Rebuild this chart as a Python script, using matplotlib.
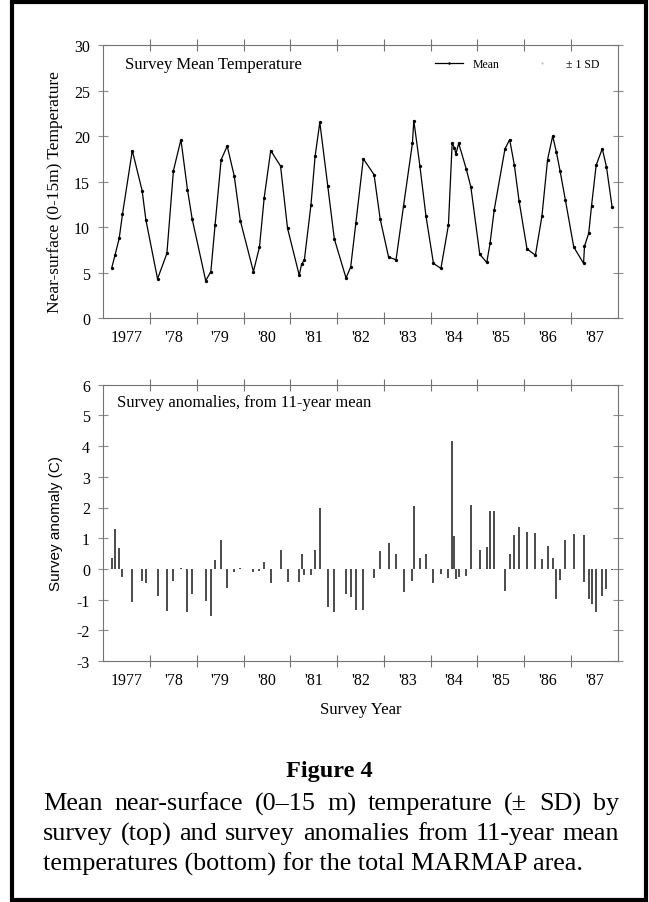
import matplotlib
matplotlib.use("Agg")
import matplotlib.pyplot as plt
from matplotlib.lines import Line2D
from matplotlib.patches import Rectangle

# survey dates (decimal year), survey mean temperature and anomaly from 11-yr mean
years = [1977.18, 1977.25, 1977.34, 1977.41, 1977.62, 1977.83, 1977.91,
         1978.16, 1978.36, 1978.50, 1978.66, 1978.80, 1978.90,
         1979.19, 1979.30, 1979.39, 1979.52, 1979.65, 1979.80, 1979.93,
         1980.21, 1980.34, 1980.44, 1980.58, 1980.79, 1980.94,
         1981.19, 1981.24, 1981.30, 1981.44, 1981.53, 1981.63, 1981.80, 1981.94,
         1982.19, 1982.29, 1982.40, 1982.56, 1982.79, 1982.92,
         1983.10, 1983.26, 1983.42, 1983.61, 1983.64, 1983.77, 1983.90,
         1984.06, 1984.22, 1984.38, 1984.46, 1984.51, 1984.54, 1984.60, 1984.76, 1984.86,
         1985.05, 1985.20, 1985.27, 1985.36, 1985.59, 1985.69, 1985.79, 1985.89,
         1986.06, 1986.24, 1986.38, 1986.50, 1986.61, 1986.69, 1986.77, 1986.88,
         1987.06, 1987.27, 1987.29, 1987.38, 1987.44, 1987.54, 1987.67, 1987.76, 1987.88]

temp_mean = [5.5, 6.9, 8.75, 11.4, 18.4, 14.0, 10.8,
             4.3, 7.1, 16.2, 19.6, 14.1, 10.9,
             4.1, 5.1, 10.2, 17.4, 18.9, 15.6, 10.7,
             5.1, 7.8, 13.2, 18.4, 16.7, 9.85,
             4.7, 5.9, 6.4, 12.4, 17.8, 21.5, 14.5, 8.7,
             4.4, 5.6, 10.4, 17.5, 15.75, 10.9,
             6.7, 6.4, 12.3, 19.2, 21.7, 16.7, 11.2,
             6.0, 5.45, 10.2, 19.2, 18.7, 18.0, 19.2, 16.4, 14.4,
             7.0, 6.1, 8.2, 11.9, 18.6, 19.6, 16.8, 12.9,
             7.6, 6.9, 11.2, 17.4, 20.0, 18.2, 16.1, 13.0,
             7.8, 6.0, 7.9, 9.3, 12.3, 16.8, 18.6, 16.6, 12.2]

anomaly = [0.35, 1.3, 0.67, -0.27, -1.09, -0.41, -0.46,
           -0.89, -1.36, -0.41, 0.02, -1.39, -0.82,
           -1.03, -1.52, 0.29, 0.95, -0.63, -0.10, 0.02,
           -0.09, -0.08, 0.24, -0.46, 0.62, -0.43,
           -0.43, 0.47, -0.2, -0.2, 0.63, 1.98, -1.25, -1.42,
           -0.82, -0.9, -1.33, -1.33, -0.3, 0.58,
           0.83, 0.47, -0.74, -0.38, 2.04, 0.35, 0.5,
           -0.45, -0.16, -0.31, 4.17, 1.08, -0.34, -0.27, -0.23, 2.09,
           0.63, 0.70, 1.87, 1.87, -0.71, 0.5, 1.11, 1.35,
           1.2, 1.18, 0.31, 0.75, 0.37, -0.97, -0.36, 0.94,
           1.15, -0.43, 1.12, -0.98, -1.15, -1.41, -0.88, -0.64, -0.05]

year_ticks = list(range(1978, 1988))
year_labels = ["1977", "'78", "'79", "'80", "'81", "'82", "'83", "'84", "'85", "'86", "'87"]

caption_title = "Figure 4"
caption_lines = ["Mean near-surface (0\u201315 m) temperature (\u00b1 SD) by",
                 "survey (top) and survey anomalies from 11-year mean",
                 "temperatures (bottom) for the total MARMAP area."]

plt.rcParams['font.family'] = ['Liberation Serif', 'DejaVu Serif']
plt.rcParams['axes.unicode_minus'] = False

W, H = 649, 903
fig = plt.figure(figsize=(W / 100, H / 100), dpi=100)


def box(l, t, r, b):
    return [l / W, 1 - b / H, (r - l) / W, (b - t) / H]


def style_axis(ax):
    for s in ax.spines.values():
        s.set_color('0.45')
        s.set_linewidth(0.8)
    ax.set_xlim(1977, 1988)
    ax.set_xticks(year_ticks)
    ax.set_xticklabels([])
    ax.set_xticks([y + 0.5 for y in range(1977, 1988)], minor=True)
    ax.set_xticklabels(year_labels, minor=True)
    ax.tick_params(axis='x', which='major', direction='inout', length=9,
                   color='0.45', top=True, bottom=True)
    ax.tick_params(axis='x', which='minor', length=0, pad=8, labelsize=11.5)
    ax.tick_params(axis='y', direction='inout', length=7, color='0.55',
                   right=True, labelsize=11.5, pad=6)


# top panel: survey mean temperature
ax1 = fig.add_axes(box(103.3, 46, 617.7, 319))
ax1.plot(years, temp_mean, color='black', lw=0.9, marker='o', ms=2.4, mew=0)
ax1.set_ylim(0, 30)
ax1.set_yticks(range(0, 31, 5))
style_axis(ax1)
ax1.set_ylabel("Near-surface (0-15m) Temperature", fontsize=12.5)
ax1.yaxis.set_label_coords(-0.078, 0.465)
ax1.text(0.042, 0.93, "Survey Mean Temperature", transform=ax1.transAxes,
         fontsize=12, va='center')
handles = [Line2D([], [], color='black', lw=0.9, marker='o', ms=1.8, mew=0),
           Line2D([], [], ls='none', marker='.', ms=1, color='0.7')]
ax1.legend(handles, ["Mean", "\u00b1 1 SD"], ncol=2, frameon=False, fontsize=8.5,
           loc='center right', bbox_to_anchor=(0.985, 0.93), handlelength=2.4,
           handletextpad=0.8, columnspacing=2.4)

# bottom panel: anomalies
ax2 = fig.add_axes(box(103.3, 385.7, 617.7, 662))
ax2.vlines(years, 0, anomaly, color='0.1', lw=1.1)
ax2.set_ylim(-3, 6)
ax2.set_yticks(range(-3, 7))
style_axis(ax2)
ax2.set_ylabel("Survey anomaly (C)", fontsize=11, family=['Liberation Sans', 'DejaVu Sans'])
ax2.yaxis.set_label_coords(-0.078, 0.5)
ax2.set_xlabel("Survey Year", fontsize=12, labelpad=9)
ax2.text(0.027, 0.937, "Survey anomalies, from 11-year mean", transform=ax2.transAxes,
         fontsize=12, va='center')

# caption
fig.text(329 / W, 1 - 772 / H, caption_title, ha='center', va='center',
         fontsize=17.5, fontweight='bold')

cap_size = 18.8
cap_left, cap_right = 43, 619
cap_y = [804, 834, 864]
fig.canvas.draw()
rend = fig.canvas.get_renderer()
for i, line in enumerate(caption_lines):
    y = 1 - cap_y[i] / H
    if i == len(caption_lines) - 1:
        fig.text(cap_left / W, y, line, ha='left', va='center', fontsize=cap_size)
        continue
    words = line.split()
    arts = [fig.text(0, y, w, ha='left', va='center', fontsize=cap_size) for w in words]
    widths = [a.get_window_extent(rend).width for a in arts]
    gap = (cap_right - cap_left - sum(widths)) / (len(words) - 1)
    x = cap_left
    for a, w in zip(arts, widths):
        a.set_x(x / W)
        x += w + gap

fig.patches.append(Rectangle((12 / W, 1 - 900.5 / H), (646 - 12) / W, (900.5 - 2.5) / H,
                             transform=fig.transFigure, fill=False, lw=3, ec='black'))

fig.savefig("out.png", dpi=100)
